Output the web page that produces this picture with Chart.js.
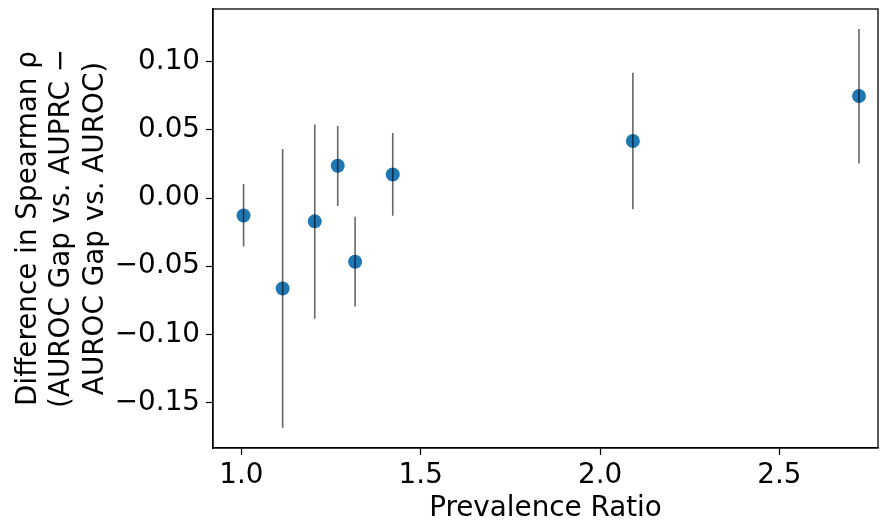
<!DOCTYPE html>
<html>
<head>
<meta charset="utf-8">
<script src="https://cdn.jsdelivr.net/npm/chart.js@4.4.1/dist/chart.umd.min.js"></script>
<style>
  html, body { margin: 0; padding: 0; background: #fff; }
  #wrap { width: 880px; height: 525px; }
</style>
</head>
<body>
<div id="wrap"><canvas id="myChart"></canvas></div>
<script>
// values
const prevalenceRatio = [1.006, 1.115, 1.2045, 1.2686, 1.317, 1.422, 2.0915, 2.722];
const spearmanDiff = [-0.0128, -0.0663, -0.0171, 0.0237, -0.0467, 0.0173, 0.0418, 0.0748];
const ciLow = [-0.0355, -0.1684, -0.0885, -0.0059, -0.0795, -0.013, -0.0083, 0.0254];
const ciHigh = [0.0103, 0.0359, 0.054, 0.0528, -0.0137, 0.0477, 0.0919, 0.1239];
const xTicks = [1.0, 1.5, 2.0, 2.5];
const yTicks = [-0.15, -0.10, -0.05, 0.00, 0.05, 0.10];
const xLabel = 'Prevalence Ratio';
const yLabel = ['Difference in Spearman \u03c1', '(AUROC Gap vs. AUPRC \u2212', 'AUROC Gap vs. AUROC)'];

Chart.defaults.font.family = "'DejaVu Sans', sans-serif";
Chart.defaults.font.size = 27.8;
Chart.defaults.color = '#000';

const points = prevalenceRatio.map((x, i) => ({x: x, y: spearmanDiff[i]}));
// error bars: one line with gaps between each pair
const bars = [];
prevalenceRatio.forEach((x, i) => {
  bars.push({x: x, y: ciLow[i]});
  bars.push({x: x, y: ciHigh[i]});
  bars.push({x: x, y: null});
});

const frame = {
  id: 'frame',
  afterDraw(chart) {
    const a = chart.chartArea, c = chart.ctx;
    c.save();
    c.strokeStyle = '#000';
    c.lineWidth = 1.3;
    c.strokeRect(a.left, a.top, a.right - a.left, a.bottom - a.top);
    c.restore();
  }
};

const fmt = v => {
  const s = Math.abs(v).toFixed(2);
  return v < -1e-9 ? '\u2212' + s : s;
};

const myChart = new Chart(document.getElementById('myChart'), {
  type: 'scatter',
  data: {
    datasets: [
      {
        type: 'line',
        data: bars,
        borderColor: 'rgba(0,0,0,0.6)',
        borderWidth: 1.6,
        pointRadius: 0,
        spanGaps: false,
        order: 0
      },
      {
        data: points,
        backgroundColor: '#1f77b4',
        borderColor: '#1f77b4',
        pointRadius: 7,
        borderWidth: 0,
        order: 1
      }
    ]
  },
  options: {
    animation: false,
    responsive: true,
    maintainAspectRatio: false,
    layout: { autoPadding: false, padding: { top: 9, right: 2, left: 0, bottom: 0 } },
    plugins: { legend: { display: false }, tooltip: { enabled: false } },
    scales: {
      x: {
        type: 'linear',
        min: 0.9208,
        max: 2.775,
        afterBuildTicks: s => { s.ticks = xTicks.map(v => ({value: v})); },
        afterFit: s => { s.height = 77; s.paddingLeft = 0; s.paddingRight = 0; },
        grid: { drawOnChartArea: false, drawTicks: true, tickLength: 7, tickWidth: 1.2, tickColor: '#000' },
        border: { display: true, color: '#000', width: 1.3 },
        ticks: { padding: 4, callback: v => v.toFixed(1), maxRotation: 0 },
        title: { display: true, text: xLabel, padding: { top: 2, bottom: 0 } }
      },
      y: {
        min: -0.1833,
        max: 0.1386,
        afterBuildTicks: s => { s.ticks = yTicks.map(v => ({value: v})); },
        afterFit: s => { s.width = 213; s.paddingTop = 0; s.paddingBottom = 0; },
        grid: { drawOnChartArea: false, drawTicks: true, tickLength: 7, tickWidth: 1.2, tickColor: '#000' },
        border: { display: true, color: '#000', width: 1.3 },
        ticks: { padding: 6, callback: v => fmt(v) },
        title: { display: true, text: yLabel, lineHeight: 1.1, padding: { top: 12, bottom: 0 } }
      }
    }
  },
  plugins: [frame]
});
</script>
</body>
</html>
